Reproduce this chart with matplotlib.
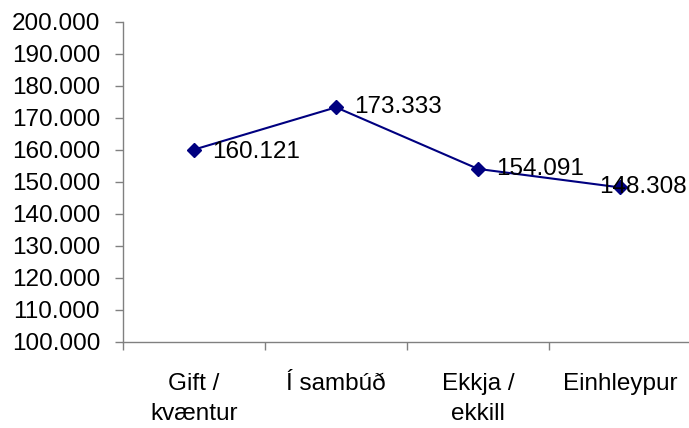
import matplotlib
matplotlib.use("Agg")
import matplotlib.pyplot as plt
from matplotlib.ticker import FuncFormatter, FixedLocator

plt.rcParams['font.family'] = ['Liberation Sans', 'DejaVu Sans']

categories = ["Gift /\nkvæntur", "Í sambúð", "Ekkja /\nekkill", "Einhleypur"]
values = [160121, 173333, 154091, 148308]
y_ticks = list(range(100000, 200001, 10000))

# label offsets (points) relative to each marker
label_offsets = [(13, -2), (13, 0), (13, 0), (-15, 0)]

FS = 17.5


def dot_thousands(v, _pos=None):
    return f"{int(round(v)):,}".replace(",", ".")


W, H = 689, 428
fig = plt.figure(figsize=(W / 100, H / 100), dpi=100)
ax = fig.add_axes([123 / W, (H - 342) / H, (691 - 123) / W, 320 / H])

x = list(range(len(categories)))
ax.plot(x, values, color="#000080", lw=1.5, marker="D", markersize=7.2,
        markerfacecolor="#000080", markeredgecolor="#000080", clip_on=False)

for xi, v, (dx, dy) in zip(x, values, label_offsets):
    ax.annotate(dot_thousands(v), (xi, v), xytext=(dx, dy),
                textcoords="offset points", ha="left", va="center",
                fontsize=FS, color="black")

ax.set_xlim(-0.5, 3.5)
ax.set_ylim(100000, 200000)
ax.yaxis.set_major_locator(FixedLocator(y_ticks))
ax.yaxis.set_major_formatter(FuncFormatter(dot_thousands))

ax.set_xticks(x)
ax.set_xticklabels(categories, fontsize=FS, linespacing=1.5)
ax.set_xticks([-0.5, 0.5, 1.5, 2.5, 3.5], minor=True)
ax.tick_params(axis="x", which="major", length=0, pad=22)
ax.tick_params(axis="x", which="minor", length=5.5, width=1, color="#808080",
               direction="out")
ax.tick_params(axis="y", length=5.5, width=1, color="#808080", pad=11,
               labelsize=FS, direction="out")

for side in ("top", "right"):
    ax.spines[side].set_visible(False)
for side in ("left", "bottom"):
    ax.spines[side].set_color("#808080")
    ax.spines[side].set_linewidth(1.0)

fig.savefig("out.png", dpi=100)
